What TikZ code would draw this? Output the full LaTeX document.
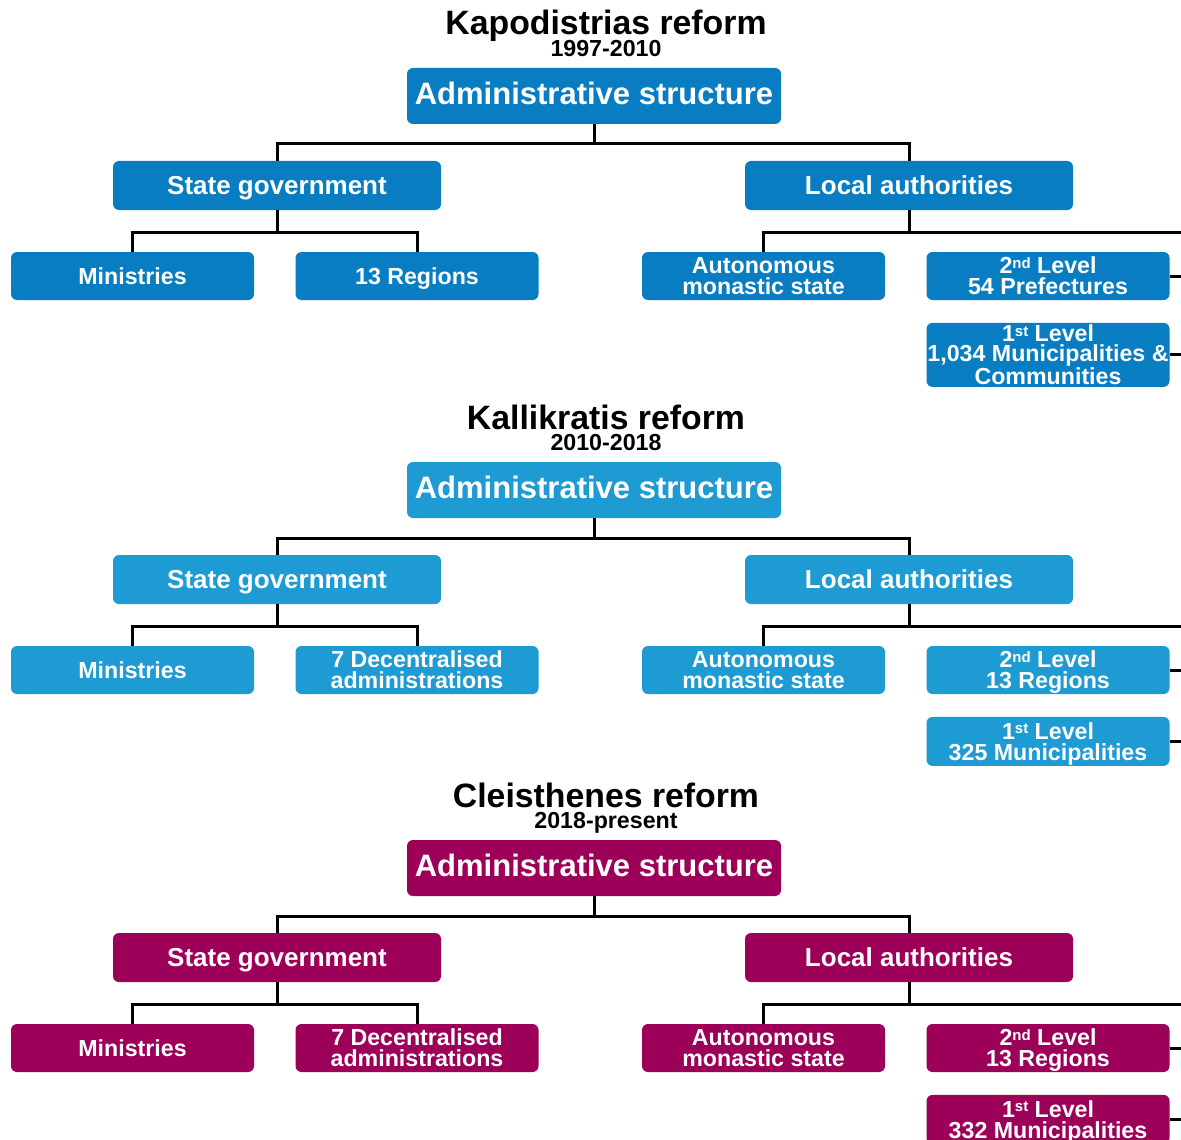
\documentclass[tikz,border=0pt]{standalone}
\usepackage{fontspec}
\setmainfont{Liberation Sans}

\definecolor{kapblue}{RGB}{8,125,194}
\definecolor{kalblue}{RGB}{30,155,210}
\definecolor{cleimag}{RGB}{156,0,88}
\colorlet{boxcol}{kapblue}

% small ordinal suffix whose top lines up with the digits
\newcommand\ordsuf[1]{\raisebox{0.24em}{\fontsize{7.5}{8}\selectfont #1}}

\tikzset{
  orgbox/.style={fill=boxcol, rounded corners=3pt, text=white, inner sep=0pt, align=center},
  topbox/.style={orgbox, minimum width=187pt, minimum height=28pt,
    font=\fontsize{15.5}{18}\selectfont\bfseries, text height=11.1pt, text depth=3pt},
  midbox/.style={orgbox, minimum width=164pt, minimum height=24.5pt,
    font=\fontsize{13}{15}\selectfont\bfseries, text height=9.3pt, text depth=0pt},
  leafbox/.style={orgbox, minimum width=121.5pt, minimum height=24pt, text depth=0pt,
    font=\fontsize{11.6}{10.5}\selectfont\bfseries},
  lvthree/.style={minimum height=32pt, font=\fontsize{11.6}{9.8}\selectfont\bfseries},
  lvtwo/.style={minimum height=24.5pt},
  titletext/.style={inner sep=0pt, text depth=0pt, font=\fontsize{16.9}{20}\selectfont\bfseries},
  yeartext/.style={inner sep=0pt, text depth=0pt, font=\fontsize{11.6}{14}\selectfont\bfseries},
  link/.style={draw=black, line width=1.5pt},
}

% One reform chart: #1 name prefix, #2 vertical offset, #3 colour,
% #4 reform name, #5 years, #6 second state body, #7 2nd level,
% #8 1st level, #9 style of the 1st level box
\newcommand\reformchart[9]{%
  \colorlet{boxcol}{#3}%
  \node[titletext, anchor=base] (#1title) at (606,{#2+35}) {#4 reform};
  \node[yeartext, anchor=base] (#1years) at (606,{#2+56.5}) {#5};
  \node[topbox] (#1admin) at (594,{#2+96}) {Administrative structure};
  \node[midbox] (#1sg) at (277,{#2+185.5}) {State government};
  \node[midbox] (#1la) at (909,{#2+185.5}) {Local authorities};
  \node[leafbox] (#1min) at (132.5,{#2+276}) {Ministries};
  \node[leafbox] (#1reg) at (417,{#2+276}) {#6};
  \node[leafbox] (#1ams) at (763.5,{#2+276}) {Autonomous\\monastic state};
  \node[leafbox] (#1lvb) at (1048,{#2+276}) {2\ordsuf{nd} Level\\#7};
  \node[leafbox, anchor=north, #9] (#1lva) at (1048,{#2+322.5}) {1\ordsuf{st} Level\\#8};
  % bus lines and free ends running off the right edge
  \coordinate (#1bus) at (594,{#2+144});
  \coordinate (#1sgbus) at (277,{#2+232});
  \coordinate (#1labus) at (1195,{#2+232});
  \coordinate (#1lvbend) at (1195,{#2+276});
  \draw[link] (#1admin.south) -- (#1bus) -| (#1sg.north);
  \draw[link] (#1bus) -| (#1la.north);
  \draw[link] (#1sg.south) -- (#1sgbus) -| (#1min.north);
  \draw[link] (#1sgbus) -| (#1reg.north);
  \draw[link] (#1ams.north) |- (#1labus);
  \draw[link] (#1la.south) -- (#1la.south |- #1labus);
  \draw[link] (#1lvb.east) -- (#1lvbend);
  \draw[link] (#1lva.east) -- (#1lva.east -| #1lvbend);
}

\begin{document}
\begin{tikzpicture}[x=0.5pt, y=-0.5pt]
  \useasboundingbox (0,0) rectangle (1181,1139);
  \clip (0,0) rectangle (1181,1139);
  \fill[white] (0,0) rectangle (1181,1139);
  \reformchart{k}{0}{kapblue}{Kapodistrias}{1997-2010}{13 Regions}%
    {54 Prefectures}{1,034 Municipalities \&\\Communities}{lvthree}
  \reformchart{l}{394}{kalblue}{Kallikratis}{2010-2018}{7 Decentralised\\administrations}%
    {13 Regions}{325 Municipalities}{lvtwo}
  \reformchart{c}{772}{cleimag}{Cleisthenes}{2018-present}{7 Decentralised\\administrations}%
    {13 Regions}{332 Municipalities}{lvtwo}
\end{tikzpicture}
\end{document}
